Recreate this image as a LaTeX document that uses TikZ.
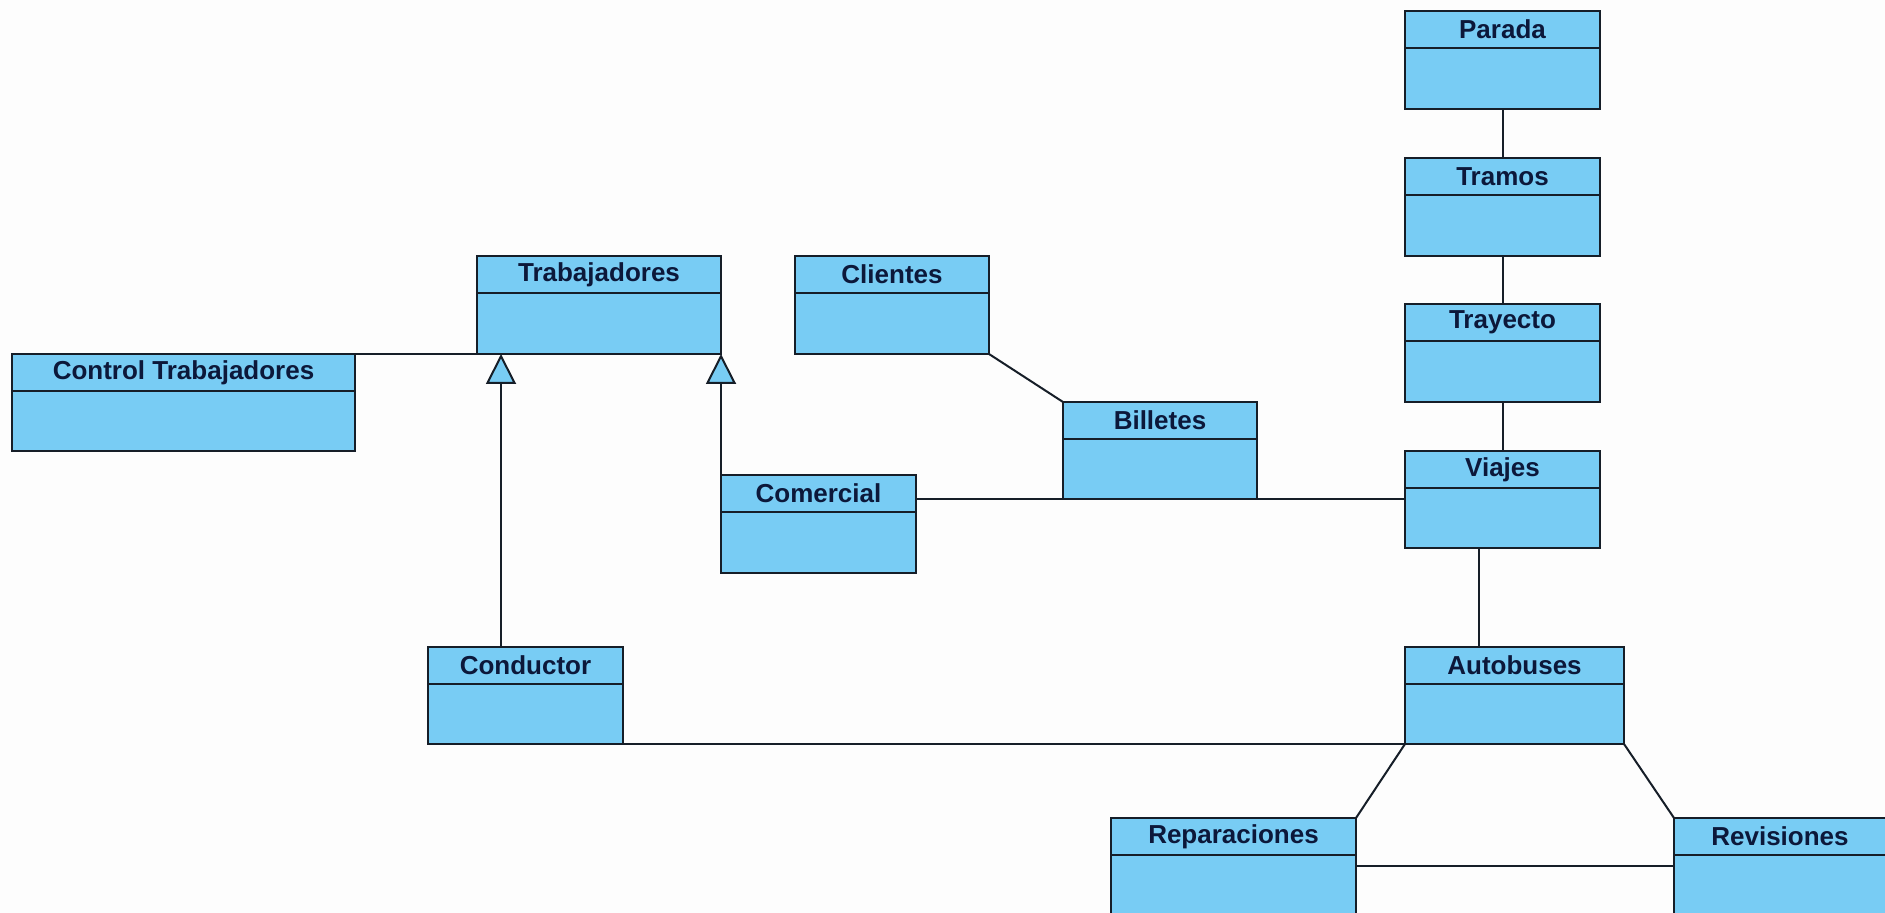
\documentclass[tikz,border=0pt]{standalone}
\usepackage{fontspec}
\setmainfont{Liberation Sans}
\usetikzlibrary{calc,arrows.meta}
\definecolor{boxfill}{RGB}{120,204,244}
\definecolor{boxline}{RGB}{22,30,40}
\definecolor{titlecol}{RGB}{12,24,58}
\definecolor{bgcol}{RGB}{253,253,253}
\tikzset{
  classbox/.style={draw=boxline, fill=boxfill, line width=1.2pt, inner sep=0pt, outer sep=0pt, anchor=north west},
  divider/.style={draw=boxline, line width=1.1pt},
  titletext/.style={font=\bfseries\fontsize{13}{15}\selectfont, text=titlecol, inner sep=0pt},
  assoc/.style={draw=boxline, line width=1pt},
  gen/.style={draw=boxline, line width=1pt, -{Triangle[fill=boxfill, length=15pt, width=15pt]}}
}
\newcommand{\umlclass}[6]{%
  \node[classbox, minimum width={(#4-#2)*0.5pt}, minimum height={(#5-#3)*0.5pt}] (#1) at (#2,#3) {};
  \draw[divider] ($(#1.north west)+(0,37)$) -- ($(#1.north east)+(0,37)$);
  \node[titletext] (#1-title) at ($(#1.north)+(0,18.5)$) {#6};
}
\begin{document}
\begin{tikzpicture}[x=0.5pt,y=-0.5pt]
\useasboundingbox (0,0) rectangle (1885,913);
\fill[bgcol] (0,0) rectangle (1885,913);
\clip (0,0) rectangle (1885,913);
\umlclass{parada}{1405}{11}{1600}{109}{Parada}
\umlclass{tramos}{1405}{158}{1600}{256}{Tramos}
\umlclass{trayecto}{1405}{304}{1600}{402}{Trayecto}
\umlclass{viajes}{1405}{451}{1600}{548}{Viajes}
\umlclass{autobuses}{1405}{647}{1624}{744}{Autobuses}
\umlclass{reparaciones}{1111}{818}{1356}{916}{Reparaciones}
\umlclass{revisiones}{1674}{818}{1886}{916}{Revisiones}
\umlclass{trabajadores}{477}{256}{721}{354}{Trabajadores}
\umlclass{clientes}{795}{256}{989}{354}{Clientes}
\umlclass{billetes}{1063}{402}{1257}{499}{Billetes}
\umlclass{comercial}{721}{475}{916}{573}{Comercial}
\umlclass{control}{12}{354}{355}{451}{Control Trabajadores}
\umlclass{conductor}{428}{647}{623}{744}{Conductor}
% associations
\draw[assoc] (parada.south) -- (tramos.north);
\draw[assoc] (tramos.south) -- (trayecto.north);
\draw[assoc] (trayecto.south) -- (viajes.north);
\coordinate (vb) at ($(viajes.south west)+(74,0)$);
\draw[assoc] (vb) -- (vb |- autobuses.north);
\draw[assoc] (control.north east) -- (trabajadores.south west);
\draw[assoc] (clientes.south east) -- (billetes.north west);
\draw[assoc] (billetes.south west) -- (billetes.south west -| comercial.east);
\draw[assoc] (billetes.south east) -- (billetes.south east -| viajes.west);
\draw[assoc] (conductor.south east) -- (autobuses.south west);
\draw[assoc] (autobuses.south west) -- (reparaciones.north east);
\draw[assoc] (autobuses.south east) -- (revisiones.north west);
\coordinate (rr) at ($(reparaciones.north east)+(0,48)$);
\draw[assoc] (rr) -- (rr -| revisiones.west);
% generalizations
\coordinate (ct) at ($(conductor.north west)+(73,0)$);
\draw[gen] (ct) -- (ct |- trabajadores.south);
\draw[gen] (comercial.north west) -- (comercial.north west |- trabajadores.south);
\end{tikzpicture}
\end{document}
